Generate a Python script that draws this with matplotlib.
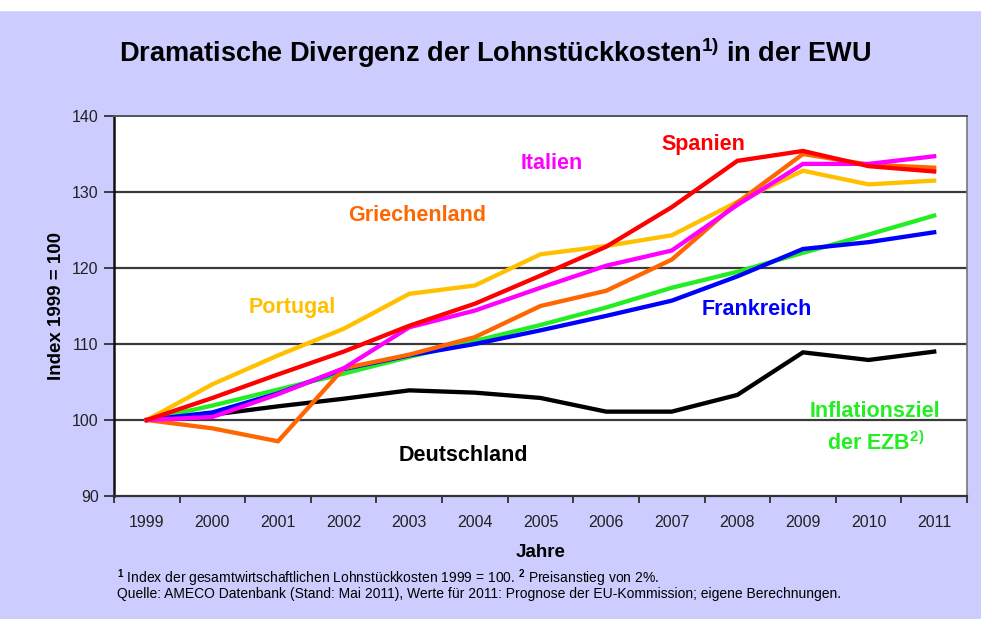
import matplotlib
matplotlib.use("Agg")
import matplotlib.pyplot as plt
import numpy as np
from matplotlib.patches import Rectangle

plt.rcParams["font.family"] = ["Liberation Sans", "DejaVu Sans"]
plt.rcParams["mathtext.fontset"] = "custom"
plt.rcParams["mathtext.rm"] = "Liberation Sans:bold"
plt.rcParams["mathtext.it"] = "Liberation Sans:bold"
plt.rcParams["mathtext.bf"] = "Liberation Sans:bold"

years = ["1999", "2000", "2001", "2002", "2003", "2004", "2005",
         "2006", "2007", "2008", "2009", "2010", "2011"]

deutschland = [100, 100.7, 101.8, 102.8, 103.9, 103.6, 102.9, 101.1, 101.1, 103.3, 108.9, 107.9, 109.0]
frankreich = [100, 101.0, 103.5, 106.7, 108.5, 110.0, 111.8, 113.7, 115.7, 118.9, 122.5, 123.4, 124.7]
inflationsziel = [100, 101.9, 104.0, 106.1, 108.3, 110.4, 112.5, 114.8, 117.4, 119.5, 122.0, 124.4, 126.9]
portugal = [100, 104.7, 108.5, 112.0, 116.6, 117.7, 121.8, 122.9, 124.3, 128.7, 132.8, 131.0, 131.5]
griechenland = [100, 98.9, 97.2, 106.8, 108.6, 110.9, 115.0, 117.0, 121.1, 128.6, 135.0, 133.6, 133.2]
italien = [100, 100.4, 103.4, 106.8, 112.2, 114.4, 117.4, 120.3, 122.3, 128.3, 133.7, 133.7, 134.7]
spanien = [100, 102.9, 106.0, 109.0, 112.4, 115.3, 119.0, 122.8, 128.0, 134.1, 135.4, 133.4, 132.7]

yticks = [90, 100, 110, 120, 130, 140]

series = [
    (deutschland, "#000000"),
    (inflationsziel, "#22ee22"),
    (frankreich, "#0000ff"),
    (portugal, "#ffc000"),
    (griechenland, "#ff6600"),
    (italien, "#ff00ff"),
    (spanien, "#ff0000"),
]

bg = "#ccccff"
fig = plt.figure(figsize=(9.81, 6.19), dpi=100, facecolor=bg)
fig.add_artist(Rectangle((0, 1 - 10 / 619), 1, 10 / 619, transform=fig.transFigure,
                         color="white", zorder=0))

ax = fig.add_axes([114 / 981, 1 - 496 / 619, 853 / 981, 380 / 619])
ax.set_facecolor("white")

x = np.arange(len(years))
for vals, col in series:
    ax.plot(x, vals, color=col, lw=3.1, solid_joinstyle="miter", zorder=3)

for v in yticks[1:-1]:
    ax.axhline(v, color="#3a3a3a", lw=1.6, zorder=1)

ax.set_xlim(-0.5, len(years) - 0.5)
ax.set_ylim(90, 140)
ax.set_yticks(yticks)
ax.tick_params(axis="y", direction="out", length=7, width=1.2, labelsize=11.5,
               colors="#222222", pad=4)

ax.set_xticks(np.arange(-0.5, len(years)), labels=[""] * (len(years) + 1))
ax.set_xticks(x, labels=years, minor=True)
ax.tick_params(axis="x", which="major", direction="out", length=5, width=1.2, color="#222222")
ax.tick_params(axis="x", which="minor", length=0, labelsize=11.5, pad=14, colors="#222222")

ax.spines["left"].set_color("#111111")
ax.spines["left"].set_linewidth(1.8)
ax.spines["bottom"].set_color("#333333")
ax.spines["bottom"].set_linewidth(1.6)
ax.spines["top"].set_color("#555555")
ax.spines["top"].set_linewidth(1.4)
ax.spines["right"].set_color("#777777")
ax.spines["right"].set_linewidth(1.2)

ax.set_ylabel("Index 1999 = 100", fontsize=13.5, fontweight="bold", labelpad=5)
ax.set_xlabel("Jahre", fontsize=13.5, fontweight="bold", labelpad=10)

fig.text(0.505, 1 - 53 / 619, "Dramatische Divergenz der Lohnstückkosten$^{1)}$ in der EWU",
         ha="center", va="center", fontsize=19.5, fontweight="bold")

# labels on the lines
lab = dict(fontsize=15.5, fontweight="bold", ha="center", va="center")
ax.text(8.48, 136.3, "Spanien", color="#ff0000", **lab)
ax.text(6.17, 133.7, "Italien", color="#ff00ff", **lab)
ax.text(4.12, 126.9, "Griechenland", color="#ff6600", **lab)
ax.text(2.21, 114.8, "Portugal", color="#ffc000", **lab)
ax.text(9.30, 114.6, "Frankreich", color="#0000ff", **lab)
ax.text(4.82, 95.3, "Deutschland", color="#000000", **lab)
ax.text(11.1, 101.1, "Inflationsziel", color="#22ee22", **lab)
ax.text(11.1, 96.9, "der EZB$^{2)}$", color="#22ee22", **lab)

fig.text(117 / 981, 1 - 578 / 619,
         "$^{1}$ Index der gesamtwirtschaftlichen Lohnstückkosten 1999 = 100. "
         "$^{2}$ Preisanstieg von 2%.",
         ha="left", va="center", fontsize=10)
fig.text(117 / 981, 1 - 594 / 619,
         "Quelle: AMECO Datenbank (Stand: Mai 2011), Werte für 2011: Prognose der "
         "EU-Kommission; eigene Berechnungen.",
         ha="left", va="center", fontsize=10)

fig.savefig("out.png", dpi=100, facecolor=bg)
